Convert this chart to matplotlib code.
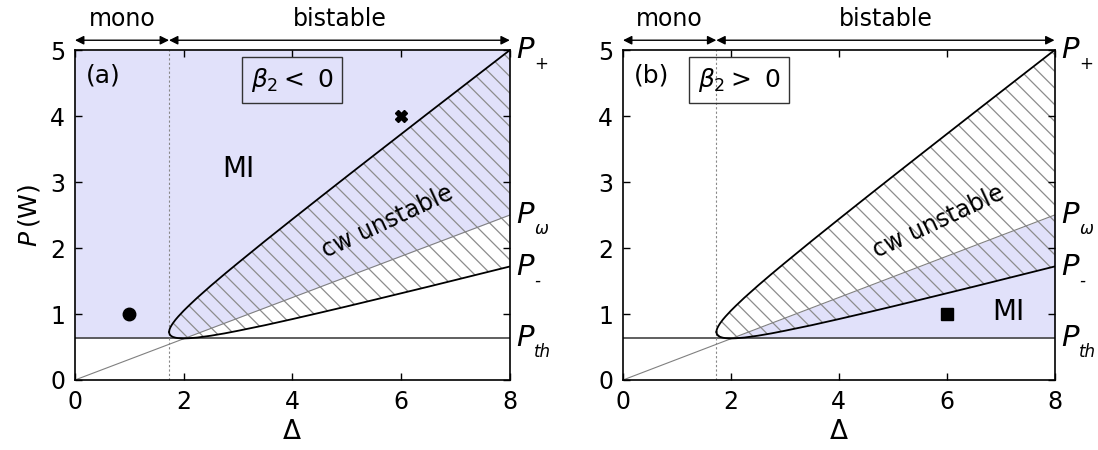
import matplotlib
matplotlib.use("Agg")
import matplotlib.pyplot as plt

plt.rcParams['font.family'] = ['DejaVu Sans']
plt.rcParams['mathtext.fontset'] = 'dejavusans'
plt.rcParams['hatch.color'] = '#8c8c8c'
plt.rcParams['hatch.linewidth'] = 0.9

# bistability boundaries
delta = [1.732, 1.735, 1.74, 1.75, 1.77, 1.8, 1.85, 1.9, 2.0, 2.1, 2.25, 2.5,
         2.75, 3.0, 3.5, 4.0, 4.5, 5.0, 5.5, 6.0, 6.5, 7.0, 7.5, 8.0]
p_plus = [0.727, 0.750, 0.766, 0.788, 0.820, 0.859, 0.914, 0.962, 1.050, 1.131,
          1.247, 1.429, 1.604, 1.774, 2.109, 2.437, 2.762, 3.085, 3.406, 3.726,
          4.046, 4.364, 4.682, 5.000]
p_minus = [0.727, 0.708, 0.696, 0.683, 0.667, 0.653, 0.641, 0.634, 0.630, 0.633,
           0.643, 0.671, 0.706, 0.746, 0.831, 0.923, 1.018, 1.115, 1.214, 1.314,
           1.414, 1.516, 1.618, 1.720]

omega_x = [0, 8]
omega_p = [0, 2.5]
p_th = 0.63
delta_bi = 1.73

# MI regions
mi_a_x = [0, 2, 8]
mi_a_low = [0.63, 0.63, 2.5]
mi_a_high = [5, 5, 5]
mi_b_x = [2, 8]
mi_b_low = [0.63, 0.63]
mi_b_high = [0.63, 2.5]

blue = '#e1e1fa'

fig = plt.figure(figsize=(10.98, 4.5), dpi=100)
ax_a = fig.add_axes([0.0683, 0.1556, 0.396, 0.733])
ax_b = fig.add_axes([0.5674, 0.1556, 0.393, 0.733])

for ax, tag in [(ax_a, 'a'), (ax_b, 'b')]:
    if tag == 'a':
        ax.fill_between(mi_a_x, mi_a_low, mi_a_high, color=blue, lw=0, zorder=0)
    else:
        ax.fill_between(mi_b_x, mi_b_low, mi_b_high, color=blue, lw=0, zorder=0)
    ax.fill_between(delta, p_minus, p_plus, facecolor='none', hatch='\\\\',
                    edgecolor='#8c8c8c', lw=0, zorder=1)
    ax.plot(omega_x, omega_p, color='#808080', lw=0.8, zorder=2)
    ax.axhline(p_th, color='#444444', lw=1.2, zorder=2)
    ax.axvline(delta_bi, color='#888888', lw=0.8, ls=(0, (2, 2)), zorder=2)
    ax.plot(delta, p_plus, color='k', lw=1.3, zorder=3)
    ax.plot(delta, p_minus, color='k', lw=1.3, zorder=3)

    ax.set_xlim(0, 8)
    ax.set_ylim(0, 5)
    ax.set_xticks([0, 2, 4, 6, 8])
    ax.set_yticks([0, 1, 2, 3, 4, 5])
    ax.tick_params(direction='in', top=True, right=True, length=5,
                   labelsize=17, width=1, pad=7)
    for s in ax.spines.values():
        s.set_linewidth(1.2)
    ax.set_xlabel(r'$\Delta$', fontsize=19, labelpad=4)

    # right-side labels: big italic P plus a small lowered subscript
    for y, sub in [(5, '+'), (2.5, r'$\omega$'), (1.72, '-'), (0.63, 'th')]:
        ax.text(8.12, y, 'P', fontsize=21, style='italic', va='center',
                ha='left', clip_on=False)
        ax.text(8.45, y - 0.21, sub, fontsize=12, style='italic', va='center',
                ha='left', clip_on=False)

    # top arrows
    for x0, x1, lab in [(0, delta_bi, 'mono'), (delta_bi, 8, 'bistable')]:
        ax.annotate('', xy=(x0, 1.03), xytext=(x1, 1.03),
                    xycoords=('data', 'axes fraction'),
                    arrowprops=dict(arrowstyle='<|-|>', color='k', lw=1,
                                    mutation_scale=13, shrinkA=0, shrinkB=0))
        ax.text((x0 + x1) / 2, 1.095, lab, fontsize=17, ha='center', va='center',
                transform=ax.get_xaxis_transform())

ax_a.set_ylabel(r'$P\,$(W)', fontsize=18, labelpad=6)

ax_a.text(0.2, 4.62, '(a)', fontsize=18, va='center')
ax_b.text(0.2, 4.62, '(b)', fontsize=18, va='center')
box = dict(boxstyle='square,pad=0.35', facecolor='none', edgecolor='#333333', lw=1)
ax_a.text(4.0, 4.55, r'$\beta_2 <$ 0', fontsize=18, ha='center', va='center', bbox=box)
ax_b.text(2.15, 4.55, r'$\beta_2 >$ 0', fontsize=18, ha='center', va='center', bbox=box)

ax_a.text(3.0, 3.2, 'MI', fontsize=20, ha='center', va='center')
ax_b.text(7.15, 1.03, 'MI', fontsize=20, ha='center', va='center')
ax_a.text(5.75, 2.4, 'cw unstable', fontsize=17, ha='center', va='center', rotation=25)
ax_b.text(5.85, 2.4, 'cw unstable', fontsize=17, ha='center', va='center', rotation=25)

ax_a.plot([1], [1], 'o', color='k', ms=9)
ax_a.plot([6], [4], 'X', color='k', ms=8)
ax_b.plot([6], [1], 's', color='k', ms=8)

fig.savefig('out.png', dpi=100)
